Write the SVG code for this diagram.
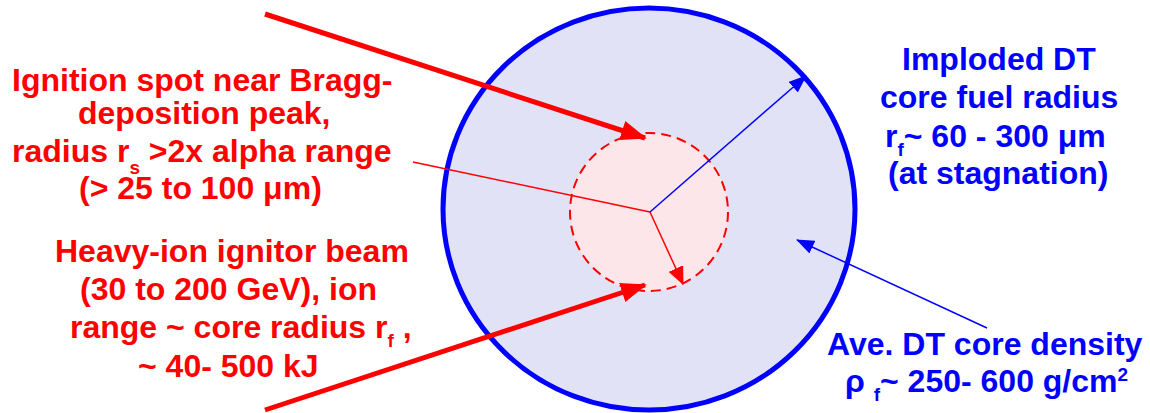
<svg xmlns="http://www.w3.org/2000/svg" width="1150" height="413" viewBox="0 0 1150 413">
<defs>
<marker id="ahRedBig" markerWidth="26" markerHeight="20" refX="24" refY="10" orient="auto" markerUnits="userSpaceOnUse"><path d="M0,0 L26,10 L0,20 z" fill="#ff0000"/></marker>
<marker id="ahRedMid" markerWidth="18" markerHeight="16" refX="17" refY="8" orient="auto" markerUnits="userSpaceOnUse"><path d="M0,0 L18,8 L0,16 z" fill="#ff0000"/></marker>
<marker id="ahBlue" markerWidth="18" markerHeight="14" refX="17" refY="7" orient="auto" markerUnits="userSpaceOnUse"><path d="M0,0 L18,7 L0,14 z" fill="#0000ff"/></marker>
</defs>
<style>
.red{fill:#ff0000;font-family:"Liberation Sans",Arial,sans-serif;font-weight:bold;font-size:32px}
.blue{fill:#0000ff;font-family:"Liberation Sans",Arial,sans-serif;font-weight:bold;font-size:32px}
.sub{font-size:19px}
</style>
<g id="core">
<ellipse cx="649" cy="209" rx="206" ry="201" fill="#e2e2f7" stroke="#0000ff" stroke-width="5"/>
</g>
<g id="spot">
<circle cx="649" cy="212" r="79" fill="#fce6e9" stroke="#ff0000" stroke-width="2" stroke-dasharray="10,6"/>
</g>
<g id="connectors">
<line x1="265" y1="14" x2="645" y2="138" stroke="#ff0000" stroke-width="5" marker-end="url(#ahRedBig)"/>
<line x1="265" y1="410" x2="645" y2="285" stroke="#ff0000" stroke-width="5" marker-end="url(#ahRedBig)"/>
<line x1="413" y1="162" x2="650" y2="212" stroke="#ff0000" stroke-width="1.5"/>
<line x1="650" y1="212" x2="683" y2="284" stroke="#ff0000" stroke-width="1.5" marker-end="url(#ahRedMid)"/>
<line x1="650" y1="212" x2="806" y2="76" stroke="#0000ff" stroke-width="1.5" marker-end="url(#ahBlue)"/>
<line x1="987" y1="328" x2="797" y2="240" stroke="#0000ff" stroke-width="1.5" marker-end="url(#ahBlue)"/>
</g>
<g id="label-spot">
<text class="red" x="12" y="91">Ignition spot near Bragg-</text>
<text class="red" x="78" y="124">deposition peak,</text>
<text class="red" x="12" y="162">radius r<tspan class="sub" dy="12">s</tspan><tspan dy="-12"> &gt;2x alpha range</tspan></text>
<text class="red" x="79" y="199">(&gt; 25 to 100 μm)</text>
</g>
<g id="label-beam">
<text class="red" x="55" y="262">Heavy-ion ignitor beam</text>
<text class="red" x="80" y="300">(30 to 200 GeV), ion</text>
<text class="red" x="70" y="338">range ~ core radius r<tspan class="sub" dy="9">f</tspan><tspan dy="-9"> ,</tspan></text>
<text class="red" x="138" y="377">~ 40- 500 kJ</text>
</g>
<g id="label-radius">
<text class="blue" x="902" y="70">Imploded DT</text>
<text class="blue" x="880" y="108">core fuel radius</text>
<text class="blue" x="885" y="147">r<tspan class="sub" dy="9">f</tspan><tspan dy="-9">~ 60 - 300 μm</tspan></text>
<text class="blue" x="888" y="184">(at stagnation)</text>
</g>
<g id="label-density">
<text class="blue" x="827" y="355">Ave. DT core density</text>
<text class="blue" x="845" y="392">ρ <tspan class="sub" dy="9">f</tspan><tspan dy="-9">~ 250- 600 g/cm</tspan><tspan class="sub" dy="-11">2</tspan></text>
</g>
</svg>
